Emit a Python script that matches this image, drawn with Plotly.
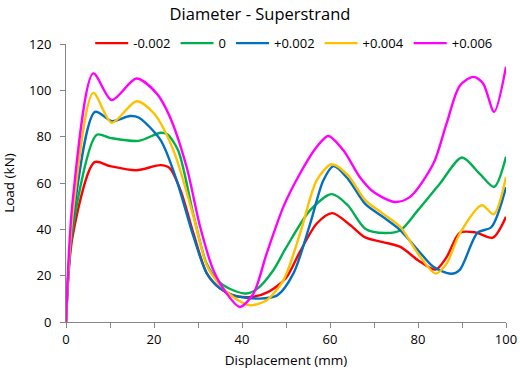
import plotly.graph_objects as go

names = ["-0.002", "0", "+0.002", "+0.004", "+0.006"]
colors = ["#FF0000", "#00B050", "#0070C0", "#FFC000", "#FF00FF"]

x_m002 = [0, 1.5, 6.5, 10, 16, 21.5, 23.5, 26, 29, 32, 35, 38, 42, 46, 50, 53, 57, 60.5, 64.5, 68, 72, 76, 80, 84, 86.5, 89.5, 93, 97, 100]
y_m002 = [0, 37, 69, 67.3, 65.5, 67.7, 66.5, 57, 38, 21, 14.5, 11.5, 10.8, 13, 19, 29.7, 42.5, 47, 42, 36.5, 34.5, 32.4, 26.7, 22.6, 28, 38.5, 38.7, 36.4, 45.4]

x_0 = [0, 1.5, 7, 10, 16.5, 21.5, 23, 25.5, 29, 32, 35, 38, 41, 43.5, 47, 50, 55.5, 60.4, 64, 68, 72.5, 76, 80, 85, 90, 94, 97.3, 100]
y_0 = [0, 40, 80.8, 79.5, 78.2, 81.7, 81, 74, 46, 25, 17, 13.7, 12.3, 14.4, 22, 32, 48.3, 55.2, 50.5, 40.3, 38.4, 39.6, 48.3, 59.8, 71, 64, 58.3, 71.3]

x_p002 = [0, 1.5, 6.6, 10.4, 14.5, 16.5, 21.5, 25, 29, 32, 35, 38, 44, 48, 51.7, 55.5, 58.5, 60.8, 64, 68, 72, 76, 80, 83.5, 87.5, 89.5, 93.5, 96.7, 100]
y_p002 = [0, 43, 90.7, 86.7, 88.9, 88.3, 78.5, 62, 36.7, 21, 14.5, 11.5, 10.1, 11.5, 21, 42.5, 61.2, 67.3, 62, 51, 45.4, 39.6, 31, 23.8, 20.8, 22.5, 38.5, 41, 58.2]

x_p004 = [0, 1.5, 6.2, 10.4, 16, 20, 24.4, 29, 32, 35, 38, 41.8, 45.6, 49.4, 53.2, 57, 60.4, 64, 68, 72, 76, 80, 84, 86.5, 89.5, 94.5, 97.2, 100]
y_p004 = [0, 46, 98.9, 86, 95.3, 90, 74.2, 45.4, 24.4, 16, 10.8, 7.2, 9.4, 18, 38.2, 61.2, 68.1, 63.5, 52.6, 46.8, 41, 29.5, 20.9, 25.2, 38.2, 50.4, 46.5, 62.6]

x_p006 = [0, 1.5, 6.2, 10.4, 16, 20.6, 23.6, 27.4, 30.5, 33.5, 36.5, 39.5, 42.6, 45.6, 49.4, 53.2, 57, 59.6, 63, 66.8, 70, 74.8, 78.2, 83.5, 86.5, 89.5, 92.6, 94.8, 97.3, 100]
y_p006 = [0, 52, 107.3, 95.8, 105.1, 98.7, 88.6, 67, 41, 22.3, 12.3, 6.5, 12.3, 29.5, 49.7, 64.1, 75.6, 80.3, 74.2, 62.5, 56, 51.8, 54, 68.4, 85.7, 102, 105.8, 103, 90.7, 110.2]

xs = [x_m002, x_0, x_p002, x_p004, x_p006]
ys = [y_m002, y_0, y_p002, y_p004, y_p006]

FONT = "Open Sans"
AX = "#868686"

fig = go.Figure()
for n, c, x, y in zip(names, colors, xs, ys):
    fig.add_trace(go.Scatter(x=x, y=y, name=n, mode="lines",
                             line=dict(color=c, width=2.4, shape="spline", smoothing=0.8)))

fig.update_layout(
    width=520, height=375,
    margin=dict(l=66, r=14, t=44, b=53, autoexpand=False),
    paper_bgcolor="white", plot_bgcolor="white",
    font=dict(family=FONT, size=13, color="#000000"),
    title=dict(text="Diameter - Superstrand", x=0.5, xanchor="center",
               y=0.962, yanchor="middle", font=dict(size=16.5, family=FONT, color="#000000")),
    legend=dict(orientation="h", x=0.055, xanchor="left", y=1.003, yanchor="middle",
                bgcolor="rgba(0,0,0,0)", font=dict(size=13, family=FONT),
                itemwidth=33, tracegroupgap=0),
    showlegend=True,
)
fig.update_xaxes(range=[0, 100], dtick=20, tick0=0, ticks="outside", ticklen=5,
                 tickcolor=AX, showline=True, linecolor=AX, linewidth=1,
                 showgrid=False, zeroline=False, automargin=False,
                 minor=dict(dtick=10, ticks="outside", ticklen=5, tickcolor=AX),
                 title=dict(text="Displacement (mm)", font=dict(size=13.5, family=FONT), standoff=8),
                 tickfont=dict(size=13, family=FONT))
fig.update_yaxes(range=[0, 120], dtick=20, tick0=0, ticks="outside", ticklen=5,
                 tickcolor=AX, showline=True, linecolor=AX, linewidth=1,
                 showgrid=False, zeroline=False, automargin=False,
                 ticklabelstandoff=6,
                 title=dict(text="Load (kN)", font=dict(size=13.5, family=FONT), standoff=11),
                 tickfont=dict(size=13, family=FONT))

fig.write_html("out.html")
